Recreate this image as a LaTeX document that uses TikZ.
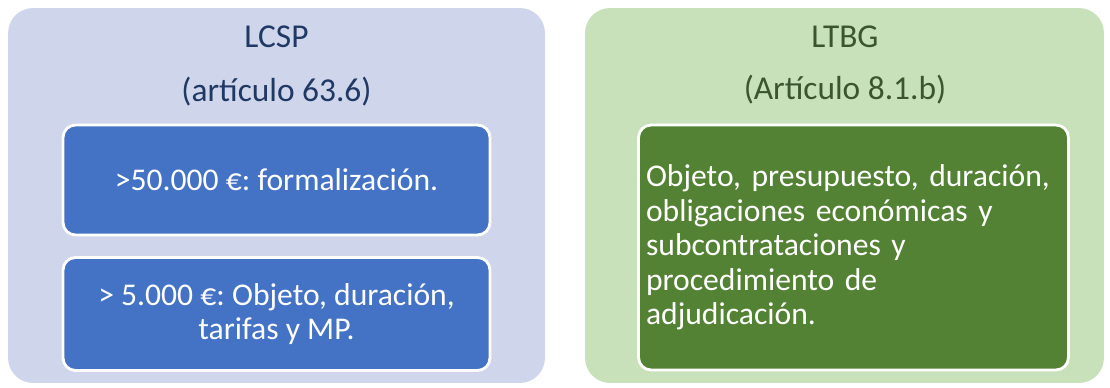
\documentclass[tikz,border=0pt]{standalone}
\usepackage{fontspec}
\setmainfont{Carlito}
\usepackage{tikz}
\usetikzlibrary{positioning}
\definecolor{lavanda}{HTML}{CFD5EA}
\definecolor{azulmedio}{HTML}{4472C4}
\definecolor{azuloscuro}{HTML}{1F3864}
\definecolor{verdeclaro}{HTML}{C8E1BA}
\definecolor{verdemedio}{HTML}{548235}
\definecolor{verdeoscuro}{HTML}{3A5530}
\frenchspacing

\begin{document}
\begin{tikzpicture}[x=0.02cm, y=-0.02cm]
    \tikzset{
        marco/.style={
            rounded corners=0.5cm,
            minimum height=7.5cm,
            inner sep=0pt
        },
        caja/.style={
            draw=white,
            line width=1.6pt,
            rounded corners=0.25cm,
            minimum width=8.54cm,
            text=white,
            font=\fontsize{18}{19.6}\selectfont,
            align=center
        },
        titulo/.style={
            font=\fontsize{19}{22}\selectfont
        }
    }
    \useasboundingbox (0,0) rectangle (1110,388);

    % Marcos exteriores
    \node[marco, fill=lavanda, minimum width=10.74cm] (lcsp) at (276.5,195.5) {};
    \node[marco, fill=verdeclaro, minimum width=10.38cm] (ltbg) at (844.5,195.5) {};

    % Titulos
    \node[titulo, text=azuloscuro] (lcsptit) at (276.5,37) {LCSP};
    \node[titulo, text=azuloscuro] (lcspart) at (276.5,92) {(artículo 63.6)};
    \node[titulo, text=verdeoscuro] (ltbgtit) at (845,37) {LTBG};
    \node[titulo, text=verdeoscuro] (ltbgart) at (845,90) {(Artículo 8.1.b)};

    % Cajas interiores
    \node[caja, fill=azulmedio, minimum height=2.2cm] (formal) at (276.5,180) {>50.000 €: formalización.};
    \node[caja, fill=azulmedio, minimum height=2.26cm] (tarifas) at (276.5,314) {> 5.000 €: Objeto, duración,\\tarifas y MP.};
    \node[caja, fill=verdemedio, minimum width=8.6cm, minimum height=4.9cm,
          text width=8.3cm, align=left] (oblig) at (853.5,247.5)
          {Objeto, presupuesto, duración,\\obligaciones económicas y\\subcontrataciones y\\procedimiento de\\adjudicación.};
\end{tikzpicture}
\end{document}
